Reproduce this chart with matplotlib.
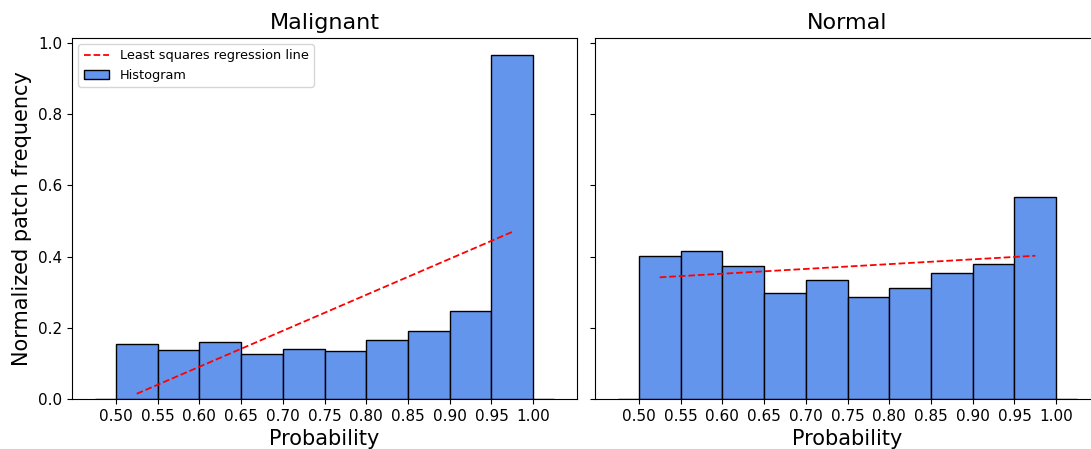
import numpy as np
import matplotlib
matplotlib.use('Agg')
import matplotlib.pyplot as plt

# ── Datos ────────────────────────────────────────────────────────
bordes = [0.475, 0.50, 0.55, 0.60, 0.65, 0.70, 0.75, 0.80, 0.85, 0.90, 0.95, 1.00, 1.025]
maligno = [0.0, 0.154, 0.138, 0.160, 0.126, 0.142, 0.135, 0.165, 0.190, 0.247, 0.966, 0.0]
normal = [0.0, 0.402, 0.416, 0.374, 0.299, 0.333, 0.287, 0.313, 0.353, 0.378, 0.567, 0.0]
titulos = ['Malignant', 'Normal']
ticks_x = [0.50, 0.55, 0.60, 0.65, 0.70, 0.75, 0.80, 0.85, 0.90, 0.95, 1.00]

fig, axes = plt.subplots(1, 2, sharey=True, figsize=(10.91, 4.49), dpi=100)
plt.subplots_adjust(left=0.066, right=1.0083, bottom=0.111, top=0.916, wspace=0.0356)

bordes = np.array(bordes)
anchos = np.diff(bordes)
centros = bordes[:-1] + anchos / 2

for ax, alturas, titulo in zip(axes, [maligno, normal], titulos):
    alturas = np.array(alturas)
    ax.bar(bordes[:-1], alturas, width=anchos, align='edge',
           color='cornflowerblue', edgecolor='black', linewidth=1.0,
           label='Histogram')

    # recta de mínimos cuadrados sobre los bins con datos
    m = alturas > 0
    pend, orig = np.polyfit(centros[m], alturas[m], 1)
    X = np.array([centros[m].min(), centros[m].max()])
    ax.plot(X, pend * X + orig, 'r--', lw=1.3, label='Least squares regression line')

    ax.set_title(titulo, fontsize=16)
    ax.set_xlabel('Probability', fontsize=15)
    ax.set_xticks(ticks_x)
    ax.set_xticklabels(['%.2f' % t for t in ticks_x])
    ax.tick_params(labelsize=11)

axes[0].set_ylabel('Normalized patch frequency', fontsize=15)
axes[0].set_yticks([0.0, 0.2, 0.4, 0.6, 0.8, 1.0])

h, l = axes[0].get_legend_handles_labels()
# la línea primero, luego el histograma
orden = sorted(range(len(l)), key=lambda i: l[i] == 'Histogram')
axes[0].legend([h[i] for i in orden], [l[i] for i in orden],
               loc='upper left', fontsize=9.3)

plt.savefig('out.png', dpi=100)
